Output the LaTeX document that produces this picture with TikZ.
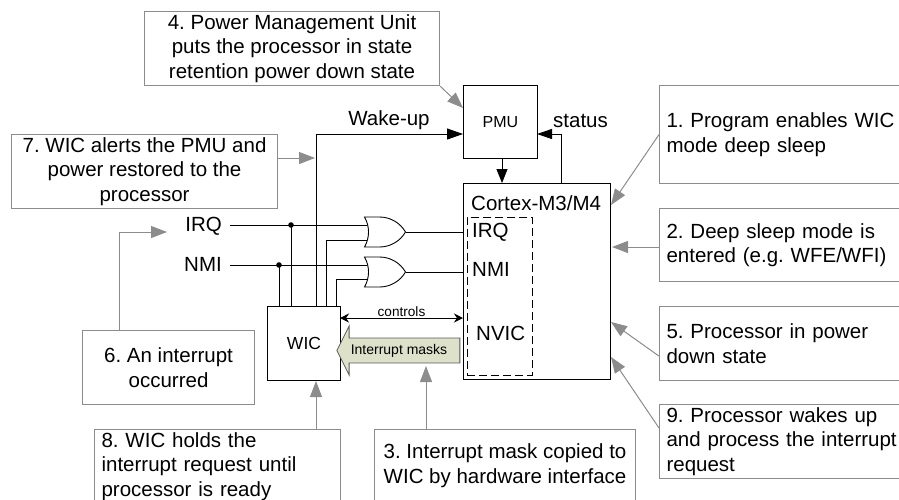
\documentclass[tikz,border=0pt]{standalone}
\usepackage{fontspec}
\setmainfont{Liberation Sans}
\usepackage{xcolor}
\definecolor{NoteGray}{HTML}{8C8C8C}
\definecolor{MaskGreen}{HTML}{DDE1C9}
\usetikzlibrary{arrows.meta,positioning,shapes.gates.logic.US,shapes.arrows}
\frenchspacing

\begin{document}
\begin{tikzpicture}[
  x=1pt,y=-1pt,
  wire/.style={line width=0.9pt,black},
  callout/.style={line width=1pt,draw=NoteGray,-{Triangle[length=16pt,width=12pt]},color=NoteGray},
  block/.style={draw=black,line width=1pt,anchor=north west,inner sep=0pt},
  notebox/.style={draw=NoteGray,line width=1.1pt,anchor=north west,inner xsep=7pt,inner ysep=0pt,align=left,font=\fontsize{20.5}{24.7}\selectfont},
  notemid/.style={notebox,align=center},
  tag/.style={font=\fontsize{20.5}{24}\selectfont,inner sep=0pt},
  orgate/.style={or gate US,draw=black,line width=0.9pt,logic gate inputs=nn,minimum width=36pt,minimum height=30pt,inner sep=0pt}
]
\useasboundingbox (0,0) rectangle (899,499);

% blocks
\node[block,minimum width=74pt,minimum height=73pt,font=\fontsize{16}{18}\selectfont] (pmu) at (463,85) {PMU};
\node[block,minimum width=147pt,minimum height=196pt] (cortex) at (463,183) {};
\node[block,minimum width=73pt,minimum height=74pt,font=\fontsize{17.5}{20}\selectfont] (wic) at (267,306) {WIC};
\node[draw=black,dash pattern=on 8pt off 4pt,line width=0.9pt,anchor=north west,minimum width=65pt,minimum height=158pt,inner sep=0pt] (nvicbox) at (467,217) {};
\node[tag,anchor=west] (cortexname) at (471,203) {Cortex-M3/M4};
\node[tag,anchor=west] (irqin) at (472,232) {IRQ};
\node[tag,anchor=west] (nmiin) at (472,269) {NMI};
\node[tag,anchor=west] (nvic) at (476,333) {NVIC};

% gates and signals
\node[orgate] (gatea) at (382,232) {};
\node[orgate] (gateb) at (382,272) {};
\node[tag,anchor=east] (irq) at (222,226) {IRQ};
\node[tag,anchor=east] (nmi) at (222,264) {NMI};
\node[tag] (wakeup) at (389,120) {Wake-up};
\node[tag] (status) at (580.5,121) {status};

\coordinate (irqtap) at (291,225);
\coordinate (nmitap) at (279,265);
\coordinate (gatealow) at (367,240);
\coordinate (gateblow) at (367,279);
\coordinate (irqend) at (367,225);
\coordinate (nmiend) at (367,265);
\coordinate (pmuback) at (537,134);
\coordinate (pmudown) at (502,158);

\draw[wire] (irq.east)++(8,-1) -- (irqend);
\draw[wire] (nmi.east)++(8,1) -- (nmiend);
\fill (irqtap) circle (2.8pt);
\fill (nmitap) circle (2.8pt);
\draw[wire] (irqtap) -- (irqtap |- wic.north);
\draw[wire] (nmitap) -- (nmitap |- wic.north);
\draw[wire] (gatealow) -| (326,306);
\draw[wire] (gateblow) -| (336,306);
\draw[wire] (gatea.output) -- (gatea.output -| cortex.west);
\draw[wire] (gateb.output) -- (gateb.output -| cortex.west);
\draw[wire,-{Triangle[length=16pt,width=11pt]}] (316,306) |- (463,134);
\draw[wire,-{Triangle[length=14pt,width=11pt]}] (pmudown) -- (pmudown |- cortex.north);
\draw[wire,-{Triangle[length=15pt,width=10pt]}] (561,183) |- (pmuback);

% wic and nvic link
\draw[wire,{Stealth[length=9pt,width=9pt]}-{Stealth[length=9pt,width=9pt]}] (340,318) -- node[above=-1pt,font=\fontsize{13.6}{15}\selectfont,inner sep=2pt] (controls) {controls} (463,318);
\node[single arrow,shape border rotate=180,draw=black!65,line width=0.8pt,fill=MaskGreen,minimum height=123pt,minimum width=49pt,single arrow head extend=12pt,single arrow tip angle=127,inner xsep=0pt,inner ysep=5.5pt,font=\fontsize{14}{16}\selectfont] (masks) at (401.5,350.5) {Interrupt masks\hspace*{5pt}};

% notes
\node[notemid,minimum width=295pt,minimum height=74pt] (pmunote) at (144,11) {4. Power Management Unit\\puts the processor in state\\retention power down state};
\node[notemid,minimum width=266pt,minimum height=74pt] (alertnote) at (11,134) {7. WIC alerts the PMU and\\power restored to the\\processor};
\node[notemid,minimum width=172pt,minimum height=74pt] (eventnote) at (82,330) {6. An interrupt\\occurred};
\node[notebox,text width=232pt,minimum height=74pt] (holdnote) at (94,429) {8. WIC holds the\\interrupt request until\\processor is ready};
\node[notebox,minimum width=261pt,minimum height=72pt] (copynote) at (374,429) {3. Interrupt mask copied to\\WIC by hardware interface};
\node[notebox,text width=236pt,minimum height=98pt] (enablenote) at (659,85) {1. Program enables WIC\\mode deep sleep};
\node[notebox,text width=236pt,minimum height=73pt] (sleepnote) at (659,208) {2. Deep sleep mode is\\entered (e.g. WFE/WFI)};
\node[notebox,text width=236pt,minimum height=74pt] (downnote) at (659,306) {5. Processor in power\\down state};
\node[notebox,text width=236pt,minimum height=74pt] (wakenote) at (659,404) {9. Processor wakes up\\and process the interrupt\\request};

\coordinate (pmuhit) at (463,108);
\coordinate (wakehit) at (315,158);
\coordinate (elbow) at (119,232);
\coordinate (irqhit) at (167,232);
\coordinate (holdhit) at (316,381);
\coordinate (copyhit) at (426,366);
\coordinate (enablehit) at (611,205);
\coordinate (sleephit) at (612,247);
\coordinate (downhit) at (611,322);
\coordinate (wakeuphit) at (611,357);

\draw[callout] (pmunote.south east) -- (pmuhit);
\draw[callout] (alertnote.east |- wakehit) -- (wakehit);
\draw[callout] (eventnote.north -| elbow) -- (elbow) -- (irqhit);
\draw[callout] (holdnote.north -| holdhit) -- (holdhit);
\draw[callout] (copynote.north -| copyhit) -- (copyhit);
\draw[callout] (enablenote.west) -- (enablehit);
\draw[callout] (sleepnote.west |- sleephit) -- (sleephit);
\draw[callout] (downnote.south west) ++(0,-25) -- (downhit);
\draw[callout] (wakenote.north west) ++(0,24) -- (wakeuphit);
\end{tikzpicture}
\end{document}
